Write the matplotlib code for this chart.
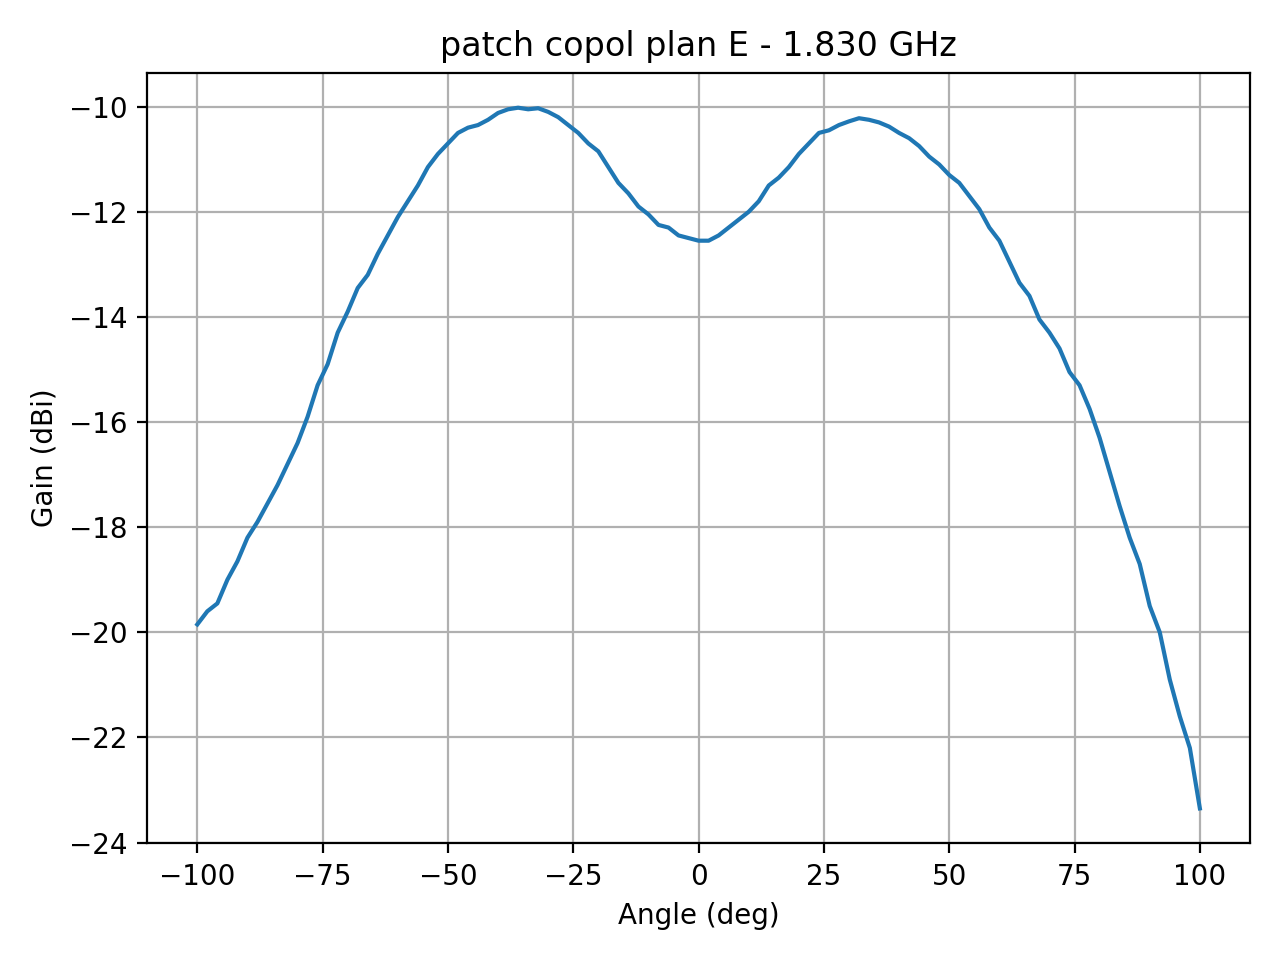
import numpy as np
import matplotlib
matplotlib.use('Agg')
import matplotlib.pyplot as plt

# Angles (deg), 2-degree steps
angle = np.arange(-100, 101, 2)

# Gain (dBi)
gain = [
    -19.85, -19.6, -19.45, -19.0, -18.65, -18.2, -17.9, -17.55, -17.2, -16.8,
    -16.4, -15.9, -15.3, -14.9, -14.3, -13.9, -13.45, -13.2, -12.8, -12.45,
    -12.1, -11.8, -11.5, -11.15, -10.9, -10.7, -10.5, -10.4, -10.35, -10.25,
    -10.12, -10.05, -10.02, -10.05, -10.03, -10.1, -10.2, -10.35, -10.5, -10.7,
    -10.85, -11.15, -11.45, -11.65, -11.9, -12.05, -12.25, -12.3, -12.45, -12.5,
    -12.55, -12.55, -12.45, -12.3, -12.15, -12.0, -11.8, -11.5, -11.35, -11.15,
    -10.9, -10.7, -10.5, -10.45, -10.35, -10.28, -10.22, -10.25, -10.3, -10.38,
    -10.5, -10.6, -10.75, -10.95, -11.1, -11.3, -11.45, -11.7, -11.95, -12.3,
    -12.55, -12.95, -13.35, -13.6, -14.05, -14.3, -14.6, -15.05, -15.3, -15.75,
    -16.3, -16.95, -17.6, -18.2, -18.7, -19.5, -20.0, -20.9, -21.6, -22.2,
    -23.35,
]

fig = plt.figure(figsize=(6.4, 4.8), dpi=200)
plt.plot(angle, gain)
plt.title('patch copol plan E - 1.830 GHz')
plt.xlabel('Angle (deg)')
plt.ylabel('Gain (dBi)')
plt.grid(True)
plt.tight_layout()
plt.savefig('out.png')
